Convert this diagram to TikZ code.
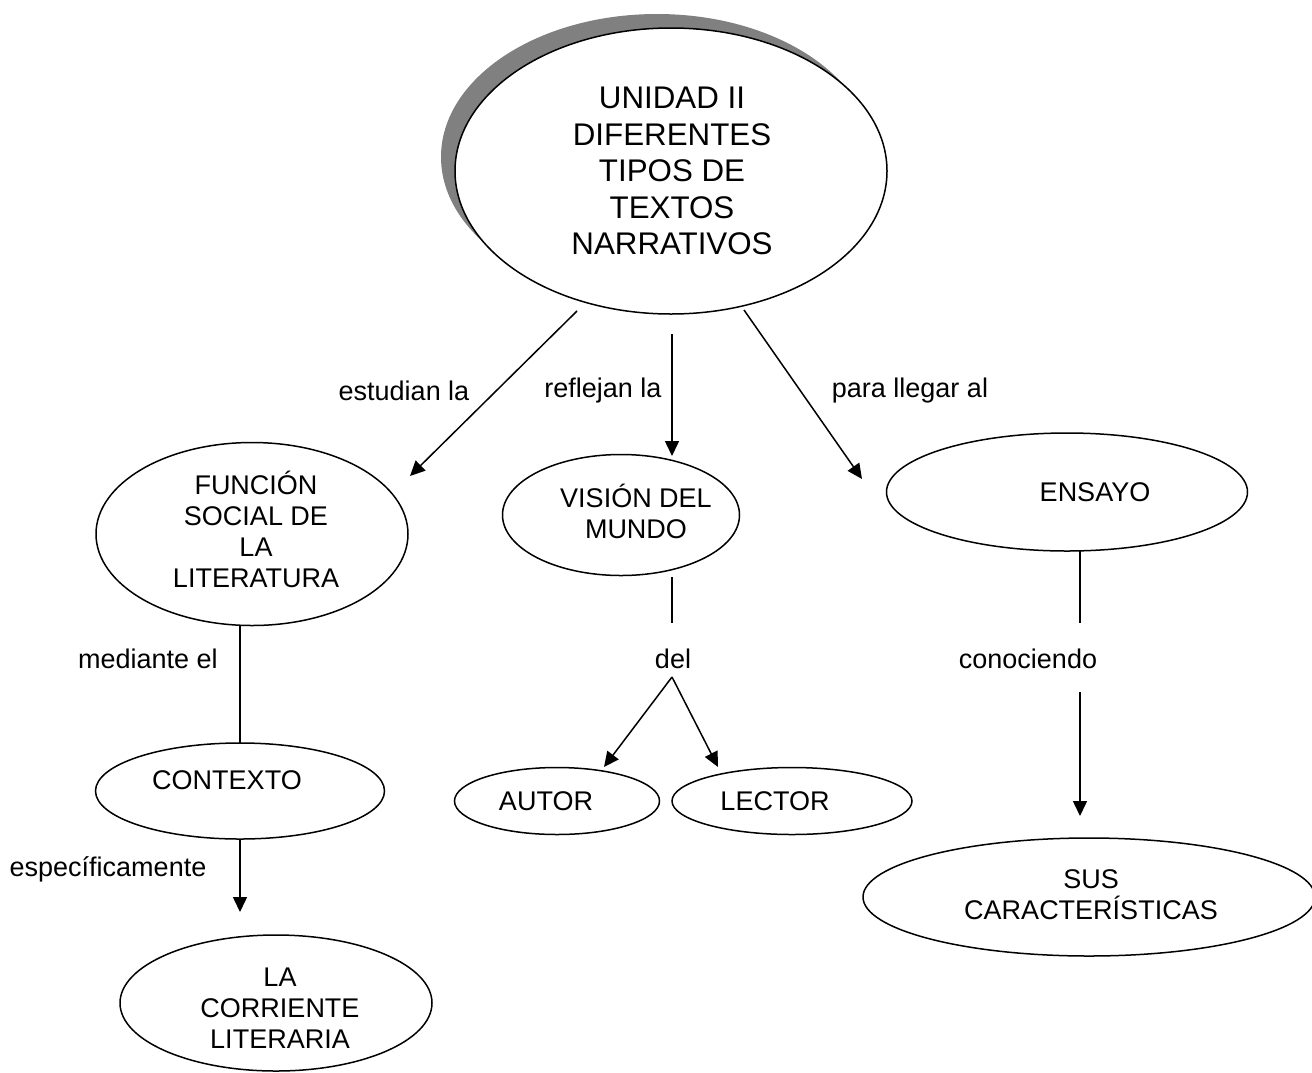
\documentclass[tikz,border=0pt]{standalone}
\usepackage{fontspec}
\setmainfont{Liberation Sans}
\usetikzlibrary{shapes.geometric,arrows.meta}
\begin{document}
\begin{tikzpicture}[x=1pt,y=-1pt,
  oval/.style={draw=black,line width=1.5pt,ellipse,fill=white,inner sep=0pt},
  txt/.style={align=center,inner sep=0pt,font=\fontsize{27}{31}\selectfont},
  bigtxt/.style={align=center,inner sep=0pt,font=\fontsize{31.3}{36.5}\selectfont},
  conn/.style={line width=1.5pt},
  arr/.style={line width=1.5pt,-{Triangle[length=15pt,width=14pt]}}]
\useasboundingbox (0,0) rectangle (1312,1072);
% main ellipse with shadow
\node[ellipse,fill=black!50,minimum width=432pt,minimum height=286pt,inner sep=0pt] (shadow) at (657,157) {};
\node[oval,minimum width=432pt,minimum height=286pt] (main) at (671,171) {};
\node[bigtxt] (maintxt) at (672,171) {UNIDAD II\\DIFERENTES\\TIPOS DE\\TEXTOS\\NARRATIVOS};
% second level
\node[oval,minimum width=312pt,minimum height=183pt] (fun) at (252,534) {};
\node[txt] (funtxt) at (256,529) {FUNCIÓN\\SOCIAL DE\\LA\\LITERATURA};
\node[oval,minimum width=237pt,minimum height=121pt] (vis) at (621,515) {};
\node[txt] (vistxt) at (636,511) {VISIÓN DEL\\MUNDO};
\node[oval,minimum width=361pt,minimum height=118pt] (ens) at (1067,492) {};
\node[txt] (enstxt) at (1095,492) {ENSAYO};
% third level
\node[oval,minimum width=289pt,minimum height=96pt] (ctx) at (240,791) {};
\node[txt] (ctxtxt) at (227,780) {CONTEXTO};
\node[oval,minimum width=205pt,minimum height=67pt] (aut) at (557,801) {};
\node[txt] (auttxt) at (546,801) {AUTOR};
\node[oval,minimum width=240pt,minimum height=67pt] (lec) at (792,801) {};
\node[txt] (lectxt) at (775,801) {LECTOR};
\node[oval,minimum width=312pt,minimum height=136pt] (cor) at (276,1003) {};
\node[txt] (cortxt) at (280,1008) {LA\\CORRIENTE\\LITERARIA};
\node[oval,minimum width=452pt,minimum height=118pt] (sus) at (1089,897) {};
\node[txt] (sustxt) at (1091,895) {SUS\\CARACTERÍSTICAS};
% labels
\node[txt] (l1) at (404,391) {estudian la};
\node[txt] (l2) at (603,391) {reflejan la};
\node[txt] (l3) at (910,391) {para llegar al};
\node[txt] (l4) at (148,659) {mediante el};
\node[txt] (l5) at (673,659) {del};
\node[txt] (l6) at (1028,659) {conociendo};
\node[txt] (l7) at (108,869) {específicamente};
% connector endpoints
\coordinate (a1s) at (577,311); \coordinate (a1e) at (410,476);
\coordinate (a2s) at (672,334); \coordinate (a2e) at (672,456);
\coordinate (a3s) at (744,310); \coordinate (a3e) at (862,479);
\coordinate (v1) at (672,577); \coordinate (v2) at (672,623);
\coordinate (d0) at (672,677); \coordinate (d1) at (604,767); \coordinate (d2) at (718,767);
\coordinate (f1) at (240,626); \coordinate (f2) at (240,743);
\coordinate (c1) at (240,839); \coordinate (c2) at (240,912);
\coordinate (e1) at (1080,551); \coordinate (e2) at (1080,623);
\coordinate (e3) at (1080,692); \coordinate (e4) at (1080,816);
% connectors
\draw[arr] (a1s) -- (a1e);
\draw[arr] (a2s) -- (a2e);
\draw[arr] (a3s) -- (a3e);
\draw[conn] (v1) -- (v2);
\draw[arr] (d0) -- (d1);
\draw[arr] (d0) -- (d2);
\draw[conn] (f1) -- (f2);
\draw[arr] (c1) -- (c2);
\draw[conn] (e1) -- (e2);
\draw[arr] (e3) -- (e4);
\end{tikzpicture}
\end{document}
